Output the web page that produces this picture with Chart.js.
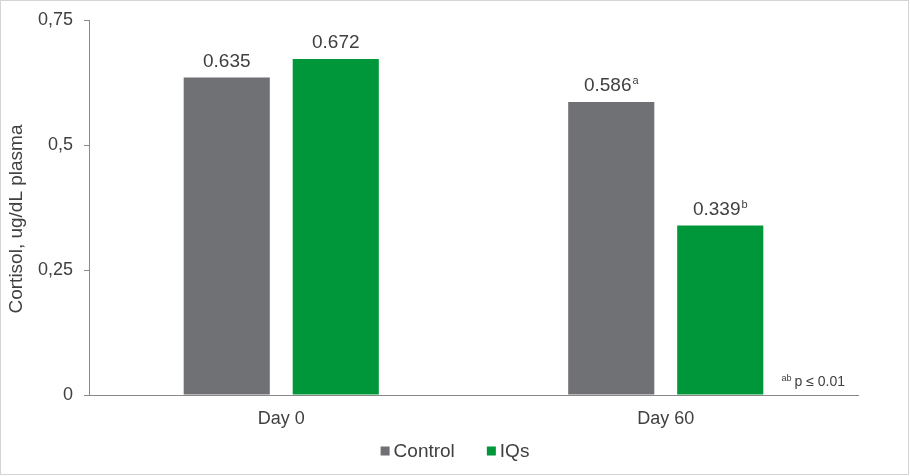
<!DOCTYPE html>
<html>
<head>
<meta charset="utf-8">
<script src="https://cdn.jsdelivr.net/npm/chart.js@4.4.0/dist/chart.umd.min.js"></script>
<style>
  html, body { margin: 0; padding: 0; background: #fff; }
</style>
</head>
<body>
<canvas id="myChart" width="910" height="476"></canvas>
<script>
const days = ["Day 0", "Day 60"];
const seriesNames = ["Control", "IQs"];
const seriesColors = ["#707174", "#00963a"];
const controlValues = [0.635, 0.586];
const iqsValues = [0.672, 0.339];
const controlMarks = ["", "a"];
const iqsMarks = ["", "b"];
const yTicks = [0, 0.25, 0.5, 0.75];
const yTickLabels = ["0", "0,25", "0,5", "0,75"];

const FONT = '"Liberation Sans", Arial, sans-serif';
const TEXT = "#404040";
const AXIS = "#898989";

// value labels over bars, with the little superscript letters
const valueLabels = {
  id: "valueLabels",
  afterDatasetsDraw(chart) {
    const ctx = chart.ctx;
    ctx.save();
    ctx.fillStyle = TEXT;
    ctx.textBaseline = "alphabetic";
    ctx.textAlign = "left";
    chart.data.datasets.forEach((ds, i) => {
      chart.getDatasetMeta(i).data.forEach((bar, j) => {
        const main = ds.data[j].toFixed(3);
        const sup = ds.marks[j];
        ctx.font = "19px " + FONT;
        const w1 = ctx.measureText(main).width;
        ctx.font = "11px " + FONT;
        const w2 = sup ? ctx.measureText(sup).width + 1 : 0;
        const x = bar.x - (w1 + w2) / 2;
        const y = bar.y - 11;
        ctx.font = "19px " + FONT;
        ctx.fillText(main, x, y);
        if (sup) {
          ctx.font = "11px " + FONT;
          ctx.fillText(sup, x + w1 + 1, y - 7);
        }
      });
    });
    ctx.restore();
  }
};

// axis title, legend, footnote and the thin frame round the picture
const extras = {
  id: "extras",
  afterDraw(chart) {
    const ctx = chart.ctx;
    const a = chart.chartArea;
    ctx.save();
    ctx.fillStyle = TEXT;

    ctx.save();
    ctx.translate(17, 219);
    ctx.rotate(-Math.PI / 2);
    ctx.textAlign = "center";
    ctx.textBaseline = "middle";
    ctx.font = "19px " + FONT;
    ctx.fillText("Cortisol, ug/dL plasma", 0, 0);
    ctx.restore();

    // legend
    ctx.font = "19px " + FONT;
    ctx.textBaseline = "middle";
    ctx.textAlign = "left";
    const box = 9, gap = 4, spacing = 32, ly = 451;
    const widths = chart.data.datasets.map(ds => ctx.measureText(ds.label).width);
    let total = 0;
    widths.forEach((w, i) => { total += box + gap + w + (i ? spacing : 0); });
    let lx = chart.width / 2 - total / 2;
    chart.data.datasets.forEach((ds, i) => {
      ctx.fillStyle = ds.backgroundColor;
      ctx.fillRect(lx, ly - box / 2, box, box);
      ctx.fillStyle = TEXT;
      ctx.fillText(ds.label, lx + box + gap, ly + 1);
      lx += box + gap + widths[i] + spacing;
    });

    // footnote
    ctx.textBaseline = "alphabetic";
    ctx.textAlign = "right";
    ctx.font = "14px " + FONT;
    const txt = "p \u2264 0.01";
    const xr = a.right - 13;
    const yb = a.bottom - 9;
    ctx.fillText(txt, xr, yb);
    const w = ctx.measureText(txt).width;
    ctx.font = "9px " + FONT;
    ctx.fillText("ab", xr - w - 3, yb - 5);

    ctx.strokeStyle = "#d4d4d4";
    ctx.lineWidth = 1;
    ctx.strokeRect(0.5, 0.5, 908, 474);
    ctx.restore();
  }
};

const ctx = document.getElementById("myChart").getContext("2d");
const chart = new Chart(ctx, {
  type: "bar",
  data: {
    labels: days,
    datasets: [
      {
        label: seriesNames[0],
        data: controlValues,
        marks: controlMarks,
        backgroundColor: seriesColors[0],
        categoryPercentage: 0.567,
        barPercentage: 0.79
      },
      {
        label: seriesNames[1],
        data: iqsValues,
        marks: iqsMarks,
        backgroundColor: seriesColors[1],
        categoryPercentage: 0.567,
        barPercentage: 0.79
      }
    ]
  },
  options: {
    responsive: false,
    animation: false,
    layout: { padding: { top: 8, right: 52, left: 0, bottom: 0 } },
    plugins: {
      tooltip: { enabled: false },
      legend: { display: false }
    },
    scales: {
      x: {
        grid: { display: false, drawTicks: false },
        border: { display: true, color: AXIS, width: 1 },
        ticks: { font: { family: FONT, size: 18 }, color: TEXT, padding: 13 },
        afterFit(scale) { scale.height = 81; }
      },
      y: {
        min: 0,
        max: 0.75,
        afterBuildTicks(scale) { scale.ticks = yTicks.map(v => ({ value: v })); },
        grid: { drawOnChartArea: false, drawTicks: true, tickLength: 5, color: AXIS },
        border: { display: true, color: AXIS, width: 1 },
        ticks: {
          font: { family: FONT, size: 18, lineHeight: 1 },
          color: TEXT,
          padding: 11,
          callback: (v) => yTickLabels[yTicks.indexOf(v)]
        },
        afterFit(scale) { scale.width = 89; }
      }
    }
  },
  plugins: [valueLabels, extras]
});
</script>
</body>
</html>
